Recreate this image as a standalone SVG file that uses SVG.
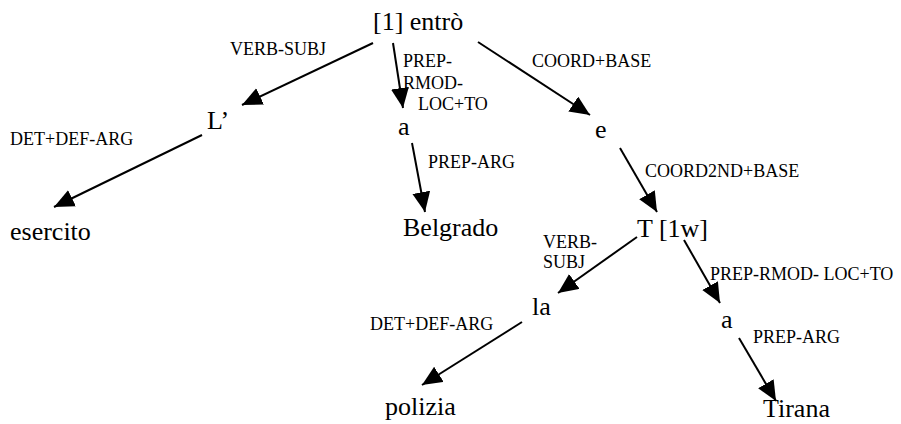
<svg xmlns="http://www.w3.org/2000/svg" width="901" height="424" viewBox="0 0 901 424">
<style>
.n{font-family:"Liberation Serif","Times New Roman",serif;font-size:26px;fill:#000}
.l{font-family:"Liberation Serif","Times New Roman",serif;font-size:18px;fill:#000}
.e{stroke:#000;stroke-width:2;fill:none;marker-end:url(#ah)}
</style>
<defs>
<marker id="ah" markerUnits="userSpaceOnUse" markerWidth="22" markerHeight="20" refX="20" refY="9" orient="auto">
<path d="M0,0 L20,9 L0,18 z" fill="#000"/>
</marker>
</defs>
<rect width="901" height="424" fill="#fff"/>
<g id="connectors">
<line class="e" x1="373" y1="43" x2="242" y2="105"/>
<line class="e" x1="393" y1="43" x2="403" y2="108"/>
<line class="e" x1="478" y1="42" x2="590" y2="115"/>
<line class="e" x1="202" y1="135" x2="54" y2="207"/>
<line class="e" x1="412" y1="143" x2="425" y2="212"/>
<line class="e" x1="620" y1="148" x2="657" y2="212"/>
<line class="e" x1="637" y1="237" x2="558" y2="293"/>
<line class="e" x1="684" y1="240" x2="720" y2="303"/>
<line class="e" x1="522" y1="322" x2="422" y2="385"/>
<line class="e" x1="739" y1="338" x2="776" y2="401"/>
<text class="l" x="230" y="55">VERB-SUBJ</text>
<text class="l" x="403" y="67">PREP-</text>
<text class="l" x="403" y="89">RMOD-</text>
<text class="l" x="418" y="110">LOC+TO</text>
<text class="l" x="532" y="67">COORD+BASE</text>
<text class="l" x="10" y="145">DET+DEF-ARG</text>
<text class="l" x="428" y="168">PREP-ARG</text>
<text class="l" x="645" y="177">COORD2ND+BASE</text>
<text class="l" x="543" y="248">VERB-</text>
<text class="l" x="543" y="268">SUBJ</text>
<text class="l" x="710" y="280">PREP-RMOD- LOC+TO</text>
<text class="l" x="370" y="330">DET+DEF-ARG</text>
<text class="l" x="753" y="343">PREP-ARG</text>
</g>
<g id="n-entro"><text class="n" x="373" y="30">[1] entrò</text></g>
<g id="n-L"><text class="n" x="207" y="129">L’</text></g>
<g id="n-a1"><text class="n" x="398" y="135">a</text></g>
<g id="n-e"><text class="n" x="595" y="138">e</text></g>
<g id="n-esercito"><text class="n" x="10" y="240">esercito</text></g>
<g id="n-belgrado"><text class="n" x="403" y="236">Belgrado</text></g>
<g id="n-T"><text class="n" x="637" y="237">T [1w]</text></g>
<g id="n-la"><text class="n" x="532" y="315">la</text></g>
<g id="n-a2"><text class="n" x="721" y="328">a</text></g>
<g id="n-polizia"><text class="n" x="385" y="415">polizia</text></g>
<g id="n-tirana"><text class="n" x="763" y="417">Tirana</text></g>
</svg>
